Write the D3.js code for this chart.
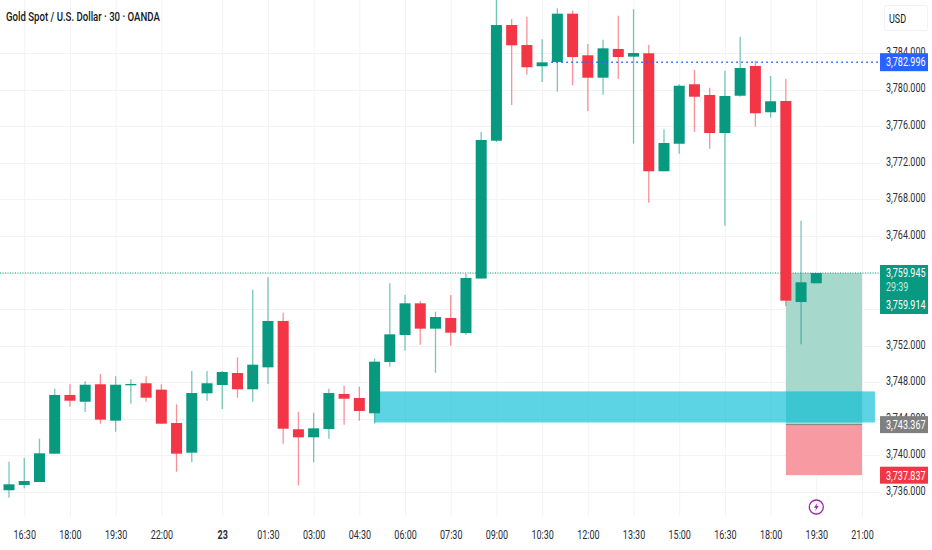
<!DOCTYPE html>
<html><head><meta charset="utf-8">
<script src="https://cdn.jsdelivr.net/npm/d3@7/dist/d3.min.js"></script>
<style>
html,body{margin:0;padding:0;background:#fff;overflow:hidden}
text{font-family:Roboto,"Liberation Sans",sans-serif}
</style></head><body>
<svg id="c" width="932" height="550"></svg>
<script>
const opens=[3736.19,3736.77,3737.09,3740.19,3746.61,3745.87,3747.78,3743.80,3747.67,3747.89,3747.19,3743.54,3740.30,3746.79,3747.70,3749.01,3747.23,3749.63,3754.70,3742.86,3741.98,3742.89,3746.72,3746.28,3744.61,3750.21,3753.17,3756.63,3753.86,3755.03,3753.38,3759.34,3774.41,3787.06,3784.87,3782.55,3783.02,3788.30,3783.75,3781.30,3784.44,3783.60,3783.97,3771.07,3774.08,3780.58,3779.41,3775.25,3779.33,3782.58,3777.52,3778.75,3756.77,3758.82];
const highs=[3739.31,3739.72,3741.83,3747.29,3747.78,3748.10,3748.90,3748.65,3748.32,3748.65,3747.78,3745.59,3749.23,3749.23,3749.23,3750.73,3758.12,3759.48,3755.60,3744.78,3744.67,3747.29,3747.62,3747.51,3750.62,3758.82,3757.54,3756.88,3755.71,3757.54,3759.84,3775.36,3790.01,3787.72,3787.97,3785.50,3788.89,3788.63,3784.98,3785.45,3788.08,3788.78,3784.87,3775.66,3780.58,3782.14,3780.21,3782.03,3785.78,3783.16,3781.49,3781.16,3765.66,3759.945];
const lows=[3735.38,3736.40,3737.09,3740.19,3745.33,3744.75,3743.47,3742.59,3745.65,3745.87,3743.47,3738.22,3739.25,3745.98,3745.08,3746.31,3745.87,3747.81,3741.28,3736.73,3739.25,3741.83,3743.36,3743.80,3743.47,3749.70,3751.45,3752.11,3749.04,3752.00,3753.20,3759.34,3774.27,3778.31,3781.63,3780.83,3779.77,3780.47,3777.66,3779.44,3781.16,3774.08,3767.63,3771.07,3772.99,3775.39,3773.54,3765.12,3779.22,3775.94,3776.93,3756.34,3752.15,3758.82];
const closes=[3736.84,3737.20,3740.23,3746.61,3745.98,3747.73,3743.91,3747.73,3747.81,3746.31,3743.47,3740.19,3746.82,3747.89,3749.12,3747.23,3749.92,3754.70,3742.92,3741.98,3742.96,3746.82,3746.20,3744.86,3750.25,3753.24,3756.63,3753.86,3755.13,3753.42,3759.40,3774.49,3787.06,3784.84,3782.44,3782.98,3788.30,3783.56,3781.30,3784.51,3783.56,3784.00,3771.07,3774.16,3780.42,3779.22,3775.25,3779.30,3782.36,3777.41,3778.72,3756.92,3758.93,3759.945];
const timeTickIndex=[1,4,7,10,14,17,20,23,26,29,32,35,38,41,44,47,50,53,56];
const timeTickLabels=["16:30","18:00","19:30","22:00","23","01:30","03:00","04:30","06:00","07:30","09:00","10:30","12:00","13:30","15:00","16:30","18:00","19:30","21:00"];
const priceTicks=[3784,3780,3776,3772,3768,3764,3760,3756,3752,3748,3744,3740,3736];
const hiddenPriceLabels=[3760,3756];
const title="Gold Spot / U.S. Dollar · 30 · OANDA";
const lastPrice=3759.945, bidPrice=3759.914, countdown="29:39";
const bluePrice=3782.996, greyPrice=3743.367, redPrice=3737.837;
const zoneTop=3747, zoneBottom=3743.6, zoneStart=24, zoneEnd=56.85;
const tradeStart=51, tradeEnd=56, tradeTop=3759.945, tradeEntry=3743.367, tradeStop=3737.837;
const blueLineStart=35.6;
const GREEN="#089981",RED="#f23645";
const FS=12, SX=0.75;

const svg=d3.select("#c");
const x=d3.scaleLinear().domain([0,56]).range([9,862]);
const y=d3.scaleLinear().domain([3736,3784]).range([492,53]);
const plotR=880, plotB=516;

svg.append("g").selectAll("line").data(timeTickIndex).join("line")
 .attr("x1",d=>x(d)+.5).attr("x2",d=>x(d)+.5).attr("y1",0).attr("y2",plotB).attr("stroke","#f3f3f3");
svg.append("g").selectAll("line").data(priceTicks).join("line")
 .attr("x1",0).attr("x2",plotR).attr("y1",d=>Math.round(y(d))+.5).attr("y2",d=>Math.round(y(d))+.5).attr("stroke","#f3f3f3");

svg.append("rect").attr("x",x(tradeStart)).attr("width",x(tradeEnd)-x(tradeStart)).attr("y",y(tradeTop)).attr("height",y(tradeEntry)-y(tradeTop)).attr("fill","#a6d8cc");
svg.append("rect").attr("x",x(tradeStart)).attr("width",x(tradeEnd)-x(tradeStart)).attr("y",y(tradeEntry)).attr("height",y(tradeStop)-y(tradeEntry)).attr("fill","#f79aa2");
svg.append("line").attr("x1",x(tradeStart)).attr("x2",x(tradeEnd)).attr("y1",y(tradeEntry)).attr("y2",y(tradeEntry)).attr("stroke","#808080");

svg.append("line").attr("x1",0).attr("x2",plotR).attr("y1",y(lastPrice)).attr("y2",y(lastPrice)).attr("stroke",GREEN).attr("stroke-dasharray","1 1.5");

svg.append("rect").attr("x",x(zoneStart)).attr("width",x(zoneEnd)-x(zoneStart)).attr("y",y(zoneTop)).attr("height",y(zoneBottom)-y(zoneTop)).attr("fill","#00bcd4").attr("fill-opacity",.64);

const idx=d3.range(opens.length);
const color=i=>closes[i]>=opens[i]?GREEN:RED;
const bw=11;
svg.append("g").selectAll("line").data(idx).join("line")
 .attr("x1",i=>x(i)).attr("x2",i=>x(i)).attr("y1",i=>y(highs[i])).attr("y2",i=>y(lows[i]))
 .attr("stroke",color).attr("stroke-opacity",.55).attr("stroke-width",1.3);
svg.append("g").selectAll("rect").data(idx).join("rect")
 .attr("x",i=>x(i)-bw/2).attr("width",bw)
 .attr("y",i=>y(Math.max(opens[i],closes[i])))
 .attr("height",i=>Math.max(1,Math.abs(y(opens[i])-y(closes[i]))))
 .attr("fill",color);

svg.append("line").attr("x1",x(blueLineStart)).attr("x2",plotR).attr("y1",y(bluePrice)).attr("y2",y(bluePrice))
 .attr("stroke","#2962ff").attr("stroke-width",1.6).attr("stroke-dasharray","1.6 3.4");

const xAxis=d3.axisBottom(x).tickValues(timeTickIndex).tickSize(0).tickFormat((d,i)=>timeTickLabels[i]);
const gx=svg.append("g").attr("transform","translate(0,529)").call(xAxis);
gx.select(".domain").remove();
gx.selectAll("text").attr("font-size",FS).attr("fill","#2a2e39").attr("dy","0.32em").attr("y",6)
 .attr("transform",`scale(${SX},1)`)
 .attr("font-weight",(d,i)=>timeTickLabels[i]==="23"?700:400);

const yAxis=d3.axisRight(y).tickValues(priceTicks.filter(d=>!hiddenPriceLabels.includes(d))).tickSize(0).tickFormat(d3.format(",.3f"));
const gy=svg.append("g").attr("transform","translate(880,-1.5)").call(yAxis);
gy.select(".domain").remove();
gy.selectAll("text").attr("font-size",FS).attr("fill","#2a2e39").attr("x",0).attr("transform",`translate(6,0) scale(${SX},1)`);

function tag(top,h,fill,lines){
 svg.append("rect").attr("x",880).attr("y",top).attr("width",48).attr("height",h).attr("fill",fill);
 lines.forEach(l=>svg.append("text").attr("transform",`translate(886,${top+l.dy}) scale(${SX},1)`).attr("font-size",FS).attr("fill",l.c||"#fff").text(l.t));
}
const f3=d3.format(",.3f");
tag(y(bluePrice)-9,18,"#2962ff",[{t:f3(bluePrice),dy:13}]);
tag(y(lastPrice)-8,49,GREEN,[{t:f3(lastPrice),dy:11.5},{t:countdown,dy:26,c:"#c4e8df"},{t:f3(bidPrice),dy:44}]);
tag(y(greyPrice)-8.5,17,"#808080",[{t:f3(greyPrice),dy:13}]);
tag(y(redPrice)-8.5,17,RED,[{t:f3(redPrice),dy:13}]);

const tt=svg.append("text").attr("font-size",13).attr("font-weight",500).attr("fill","#131722").text(title);
const ts=154/tt.node().getComputedTextLength();
tt.attr("transform",`translate(6,21) scale(${ts},1)`);

svg.append("rect").attr("x",884.5).attr("y",5.5).attr("width",43).attr("height",25).attr("rx",2).attr("fill","#fff").attr("stroke","#f0f3fa");
svg.append("text").attr("transform",`translate(889,23) scale(${SX},1)`).attr("font-size",FS).attr("fill","#131722").text("USD");

const ic=svg.append("g").attr("transform",`translate(${x(53)},507)`);
ic.append("circle").attr("r",7).attr("fill","#fff").attr("stroke","#9c27b0").attr("stroke-width",1.3);
ic.append("path").attr("d","M1.2,-4.2 L-2.4,0.8 L-0.2,0.8 L-1.2,4.2 L2.4,-0.9 L0.2,-0.9 Z").attr("fill","#9c27b0");
</script></body></html>
